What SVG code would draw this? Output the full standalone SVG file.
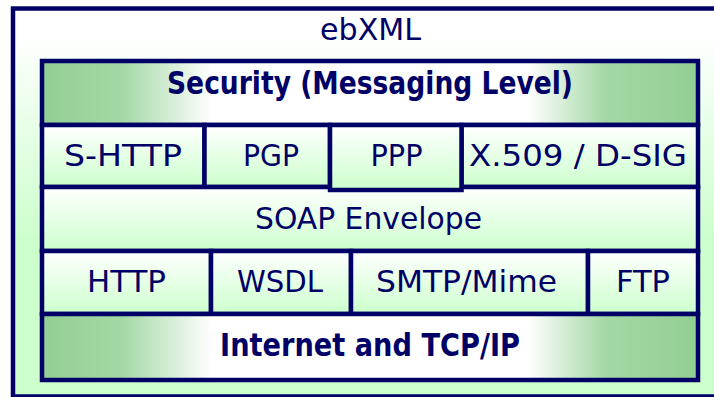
<svg xmlns="http://www.w3.org/2000/svg" width="714" height="397" viewBox="0 0 714 397">
<defs>
<linearGradient id="outerFill" x1="0" y1="0" x2="0" y2="1">
<stop offset="0.06" stop-color="#ffffff"/>
<stop offset="0.6" stop-color="#ccffcc"/>
</linearGradient>
<linearGradient id="cellFill" x1="0" y1="0" x2="0" y2="1">
<stop offset="0" stop-color="#ffffff"/>
<stop offset="1" stop-color="#ccffcc"/>
</linearGradient>
<linearGradient id="barFill" x1="0" y1="0" x2="1" y2="0">
<stop offset="0" stop-color="#92cf94"/>
<stop offset="0.12" stop-color="#a3d8a4"/>
<stop offset="0.26" stop-color="#ffffff"/>
<stop offset="0.74" stop-color="#ffffff"/>
<stop offset="0.86" stop-color="#a3d8a4"/>
<stop offset="1" stop-color="#92cf94"/>
</linearGradient>
<style>
.box{stroke:#000066;stroke-width:4.5}
.outer{fill:url(#outerFill)}
.cell{fill:url(#cellFill)}
.bar{fill:url(#barFill)}
text{font-family:"DejaVu Sans","Liberation Sans",sans-serif;fill:#000066;font-size:31px;text-anchor:middle}
.b{font-weight:bold;font-size:32px}
</style>
</defs>
<g id="ebxml">
<rect class="box outer" x="13" y="8.5" width="712" height="388"/>
<text x="370.5" y="40" textLength="101" lengthAdjust="spacingAndGlyphs">ebXML</text>
</g>
<g id="security">
<rect class="box bar" x="42" y="61" width="656" height="64"/>
<text class="b" x="370" y="94" textLength="406" lengthAdjust="spacingAndGlyphs">Security (Messaging Level)</text>
</g>
<g id="s-http">
<rect class="box cell" x="42" y="125" width="162.5" height="62"/>
<text x="123" y="165.5" textLength="118" lengthAdjust="spacingAndGlyphs">S-HTTP</text>
</g>
<g id="pgp">
<rect class="box cell" x="204.5" y="125" width="125.5" height="62"/>
<text x="271" y="165.5" textLength="56" lengthAdjust="spacingAndGlyphs">PGP</text>
</g>
<g id="x509">
<rect class="box cell" x="461.5" y="125" width="236.5" height="62"/>
<text x="578" y="165.5" textLength="218" lengthAdjust="spacingAndGlyphs">X.509 / D-SIG</text>
</g>
<g id="soap">
<rect class="box cell" x="42" y="187" width="656" height="64"/>
<text x="368.5" y="229" textLength="227" lengthAdjust="spacingAndGlyphs">SOAP Envelope</text>
</g>
<g id="ppp">
<rect class="box cell" x="330" y="125" width="131.5" height="65"/>
<text x="396.5" y="165.5" textLength="52" lengthAdjust="spacingAndGlyphs">PPP</text>
</g>
<g id="http">
<rect class="box cell" x="42" y="251" width="169" height="63"/>
<text x="126.5" y="292" textLength="79" lengthAdjust="spacingAndGlyphs">HTTP</text>
</g>
<g id="wsdl">
<rect class="box cell" x="211" y="251" width="140" height="63"/>
<text x="280" y="292" textLength="86" lengthAdjust="spacingAndGlyphs">WSDL</text>
</g>
<g id="smtp">
<rect class="box cell" x="351" y="251" width="237" height="63"/>
<text x="466.5" y="292" textLength="181" lengthAdjust="spacingAndGlyphs">SMTP/Mime</text>
</g>
<g id="ftp">
<rect class="box cell" x="588" y="251" width="110" height="63"/>
<text x="643" y="292" textLength="54" lengthAdjust="spacingAndGlyphs">FTP</text>
</g>
<g id="internet">
<rect class="box bar" x="42" y="314" width="656" height="66"/>
<text class="b" x="370" y="356" textLength="300" lengthAdjust="spacingAndGlyphs">Internet and TCP/IP</text>
</g>
<g id="connectors"/>
</svg>
